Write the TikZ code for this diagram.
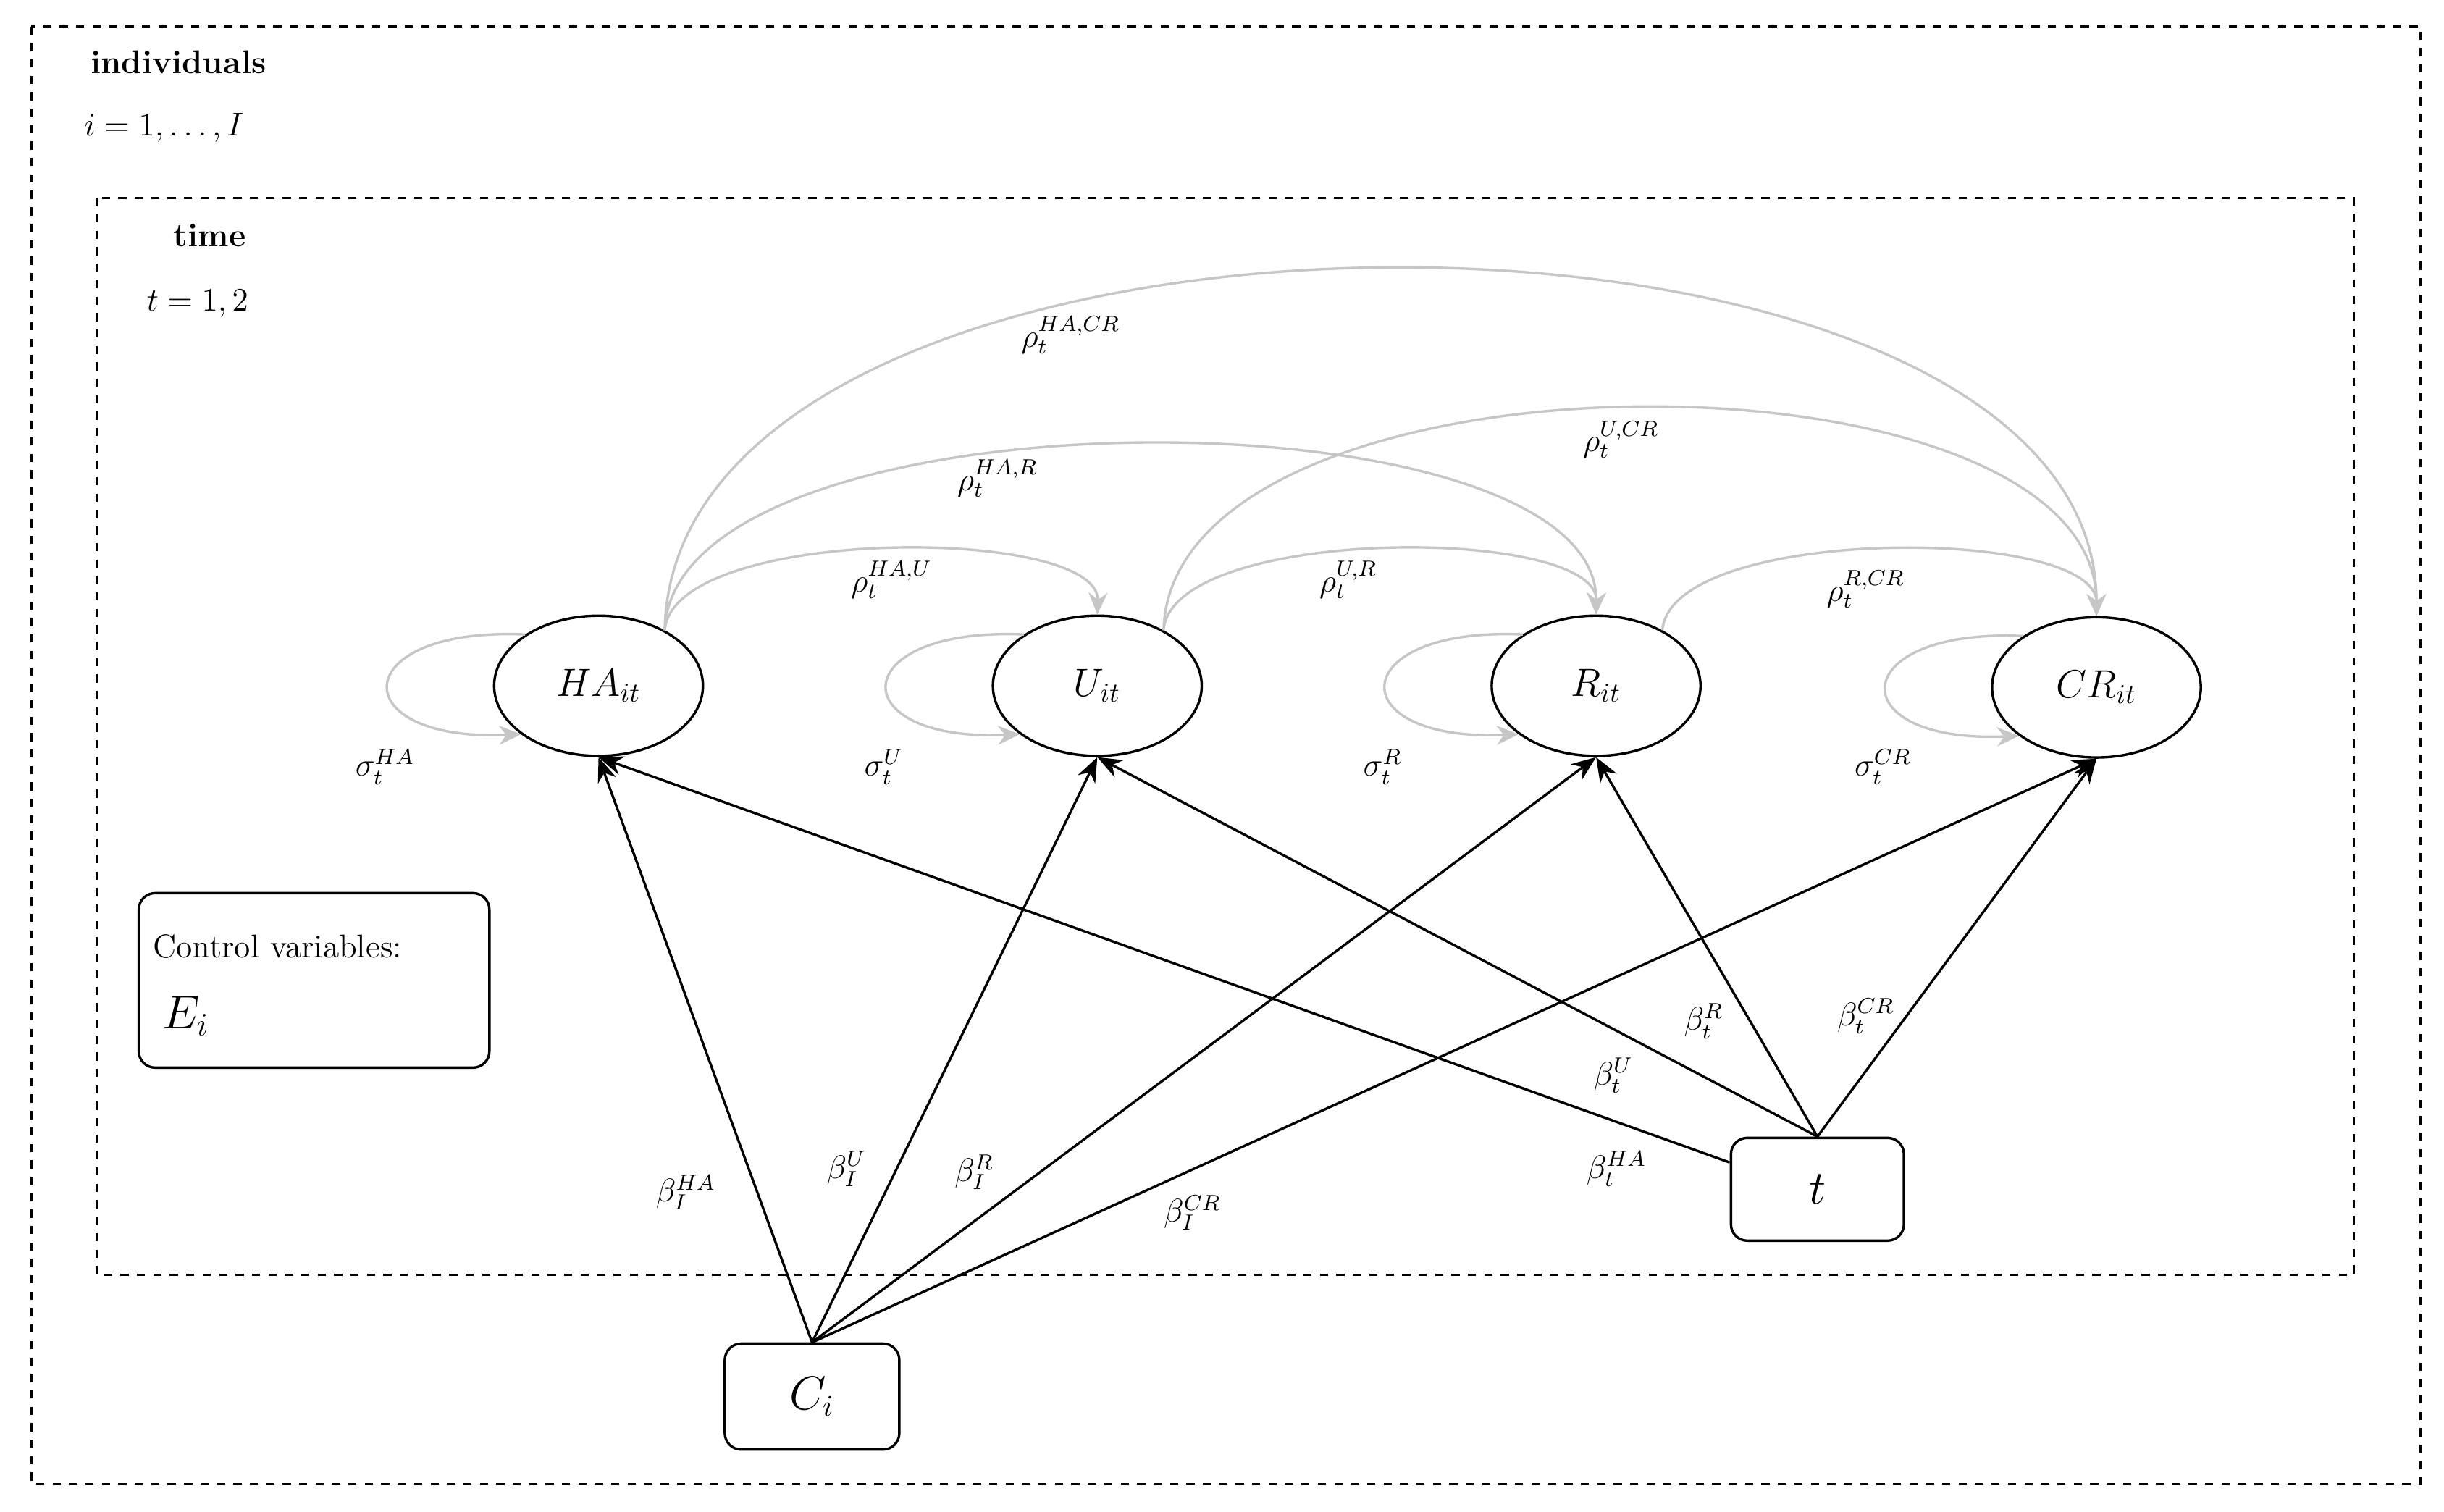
\documentclass[tikz,border=0pt]{standalone}
\usetikzlibrary{shapes.geometric,arrows.meta}
\begin{document}
\begin{tikzpicture}[x=0.02cm,y=-0.02cm,font=\fontsize{12}{14}\selectfont,
  var/.style={ellipse,draw,line width=0.9pt,minimum width=2.68cm,minimum height=1.8cm,inner sep=0pt,font=\fontsize{14}{16}\selectfont},
  box/.style={draw,rounded corners=6pt,line width=0.9pt},
  frame/.style={draw,dashed,line width=0.8pt},
  blk/.style={line width=0.9pt,-{Stealth[length=9pt,width=7pt]}},
  gry/.style={line width=0.9pt,gray!45,-{Stealth[length=8pt,width=7pt]}},
  lab/.style={inner sep=1pt}]
\useasboundingbox (0,0) rectangle (1568,970);
\draw[frame] (20,17) rectangle (1553,952);
\draw[frame] (62,127) rectangle (1510,818);
\node[anchor=west,font=\fontsize{12}{14}\selectfont\bfseries] (ind) at (52,40) {individuals};
\node[anchor=west] (irange) at (48,82) {$i=1,\ldots,I$};
\node[anchor=west,font=\fontsize{12}{14}\selectfont\bfseries] (time) at (105,151) {time};
\node[anchor=west] (trange) at (88,195) {$t=1,2$};

\node[var] (HA) at (384,440) {$HA_{it}$};
\node[var] (U) at (704,440) {$U_{it}$};
\node[var] (R) at (1024,440) {$R_{it}$};
\node[var] (CR) at (1345,441) {$CR_{it}$};

\node[box,minimum width=4.5cm,minimum height=2.24cm] (ctrl) at (201.5,629) {};
\node[anchor=west] (ctrltxt) at (92,607) {Control variables:};
\node[anchor=west,font=\fontsize{17}{20}\selectfont] (E) at (98,652) {$E_i$};
\node[box,minimum width=2.22cm,minimum height=1.32cm,font=\fontsize{16}{18}\selectfont] (t) at (1166,763) {$t$};
\node[box,minimum width=2.24cm,minimum height=1.36cm,font=\fontsize{16}{18}\selectfont] (C) at (521,896) {$C_i$};

% black effects
\draw[blk] (C.north) -- (HA.south);
\draw[blk] (C.north) -- (U.south);
\draw[blk] (C.north) -- (R.south);
\draw[blk] (C.north) -- (CR.south);
\draw[blk] (t.163) -- (HA.south);
\draw[blk] (t.north) -- (U.south);
\draw[blk] (t.north) -- (R.south);
\draw[blk] (t.north) -- (CR.south);
\node[lab] (bIHA) at (440,765) {$\beta_I^{HA}$};
\node[lab] (bIU) at (543,750) {$\beta_I^{U}$};
\node[lab] (bIR) at (625,752) {$\beta_I^{R}$};
\node[lab] (bICR) at (765,778) {$\beta_I^{CR}$};
\node[lab] (btHA) at (1037,750) {$\beta_t^{HA}$};
\node[lab] (btU) at (1035,690) {$\beta_t^{U}$};
\node[lab] (btR) at (1093,655) {$\beta_t^{R}$};
\node[lab] (btCR) at (1197,652) {$\beta_t^{CR}$};

% gray correlations
\draw[gry] (HA.40) .. controls (432,337) and (706,337) .. (U.north);
\draw[gry] (HA.40) .. controls (432,247) and (1025,247) .. (R.north);
\draw[gry] (HA.40) .. controls (432,97) and (1345,97) .. (CR.north);
\draw[gry] (U.40) .. controls (752,337) and (1025,337) .. (R.north);
\draw[gry] (U.40) .. controls (752,216) and (1345,216) .. (CR.north);
\draw[gry] (R.40) .. controls (1072,337) and (1345,337) .. (CR.north);
\node[lab] (rHAU) at (572,372) {$\rho_t^{HA,U}$};
\node[lab] (rHAR) at (640,307) {$\rho_t^{HA,R}$};
\node[lab] (rHACR) at (687,215) {$\rho_t^{HA,CR}$};
\node[lab] (rUR) at (865,372) {$\rho_t^{U,R}$};
\node[lab] (rUCR) at (1040,282) {$\rho_t^{U,CR}$};
\node[lab] (rRCR) at (1197,378) {$\rho_t^{R,CR}$};

% self loops
\foreach \n in {HA,U,R,CR}{
  \draw[gry] (\n.145) .. controls +(-115,-5) and +(-115,5) .. (\n.212);
}
\node[lab] (sHA) at (247,492) {$\sigma_t^{HA}$};
\node[lab] (sU) at (567,492) {$\sigma_t^{U}$};
\node[lab] (sR) at (887,492) {$\sigma_t^{R}$};
\node[lab] (sCR) at (1208,492) {$\sigma_t^{CR}$};
\end{tikzpicture}
\end{document}
